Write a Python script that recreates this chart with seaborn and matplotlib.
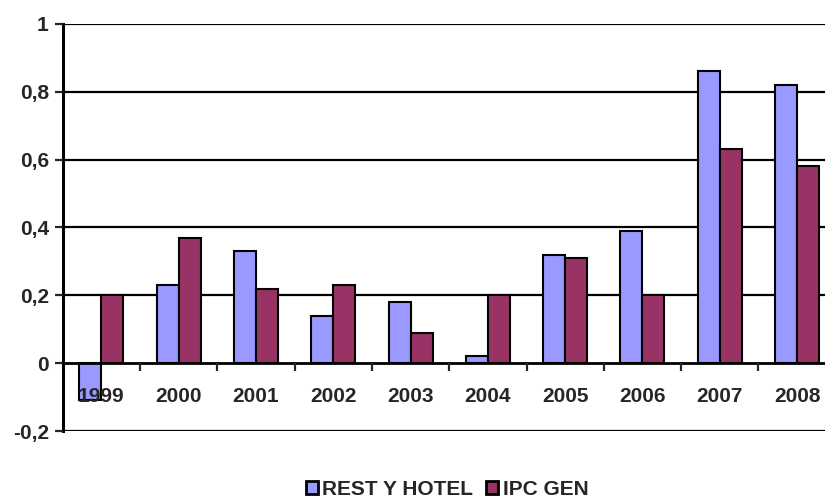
import matplotlib
matplotlib.use("Agg")
import matplotlib.pyplot as plt
import seaborn as sns
import pandas as pd
import numpy as np

years = ["1999", "2000", "2001", "2002", "2003", "2004", "2005", "2006", "2007", "2008"]
rest_hotel = [-0.11, 0.23, 0.33, 0.14, 0.18, 0.02, 0.32, 0.39, 0.86, 0.82]
ipc_gen = [0.20, 0.37, 0.22, 0.23, 0.09, 0.20, 0.31, 0.20, 0.63, 0.58]
series_names = ["REST Y HOTEL", "IPC GEN"]
y_ticks = [-0.2, 0.0, 0.2, 0.4, 0.6, 0.8, 1.0]
y_tick_labels = ["-0,2", "0", "0,2", "0,4", "0,6", "0,8", "1"]
colors = ["#9999FF", "#993366"]

df = pd.DataFrame({
    "year": years * 2,
    "value": rest_hotel + ipc_gen,
    "serie": [series_names[0]] * len(years) + [series_names[1]] * len(years),
})

sns.set_style("white")
plt.rcParams["font.family"] = ["Liberation Sans", "DejaVu Sans"]
plt.rcParams["font.weight"] = "bold"

fig = plt.figure(figsize=(8.25, 4.98), dpi=100)
ax = fig.add_axes([62.7 / 825, 1 - 431 / 498, (835.7 - 62.7) / 825, (431 - 24) / 498])

sns.barplot(data=df, x="year", y="value", hue="serie", palette=colors,
            saturation=1, width=0.57, edgecolor="black", linewidth=1.5, ax=ax,
            legend=True, zorder=2)

ax.set_xlim(-0.5, len(years) - 0.5)
ax.set_ylim(-0.2, 1.0)
ax.set_axisbelow(False)

# horizontal gridlines
for y in y_ticks:
    if y != 0:
        ax.axhline(y, color="black", lw=1.6, zorder=0.5)

for s in ["top", "right"]:
    ax.spines[s].set_visible(False)
ax.spines["left"].set_linewidth(2.2)
ax.spines["left"].set_color("black")
ax.spines["bottom"].set_position(("data", 0))
ax.spines["bottom"].set_linewidth(2.0)
ax.spines["bottom"].set_color("black")

ax.set_yticks(y_ticks)
ax.set_yticklabels(y_tick_labels, fontsize=15, fontweight="bold")
ax.tick_params(axis="y", direction="out", length=6, width=1.6, pad=4, left=True)

ax.set_xticks(range(len(years)))
ax.set_xticklabels(years, fontsize=15, fontweight="bold")
ax.tick_params(axis="x", which="major", length=0, pad=17)
ax.set_xticks(np.arange(0.5, len(years) - 0.5, 1.0), minor=True)
ax.tick_params(axis="x", which="minor", direction="out", length=6, width=1.6, bottom=True)

ax.set_xlabel("")
ax.set_ylabel("")

sns.move_legend(ax, "center", bbox_to_anchor=(447 / 825, 9 / 498),
                bbox_transform=fig.transFigure, ncol=2, frameon=False, title=None,
                prop={"size": 15, "weight": "bold"}, handlelength=0.6,
                handleheight=0.6, handletextpad=0.2, columnspacing=0.6,
                borderpad=0.1)
for h in ax.get_legend().legend_handles:
    h.set_edgecolor("black")
    h.set_linewidth(2.0)

fig.savefig("out.png", dpi=100)
